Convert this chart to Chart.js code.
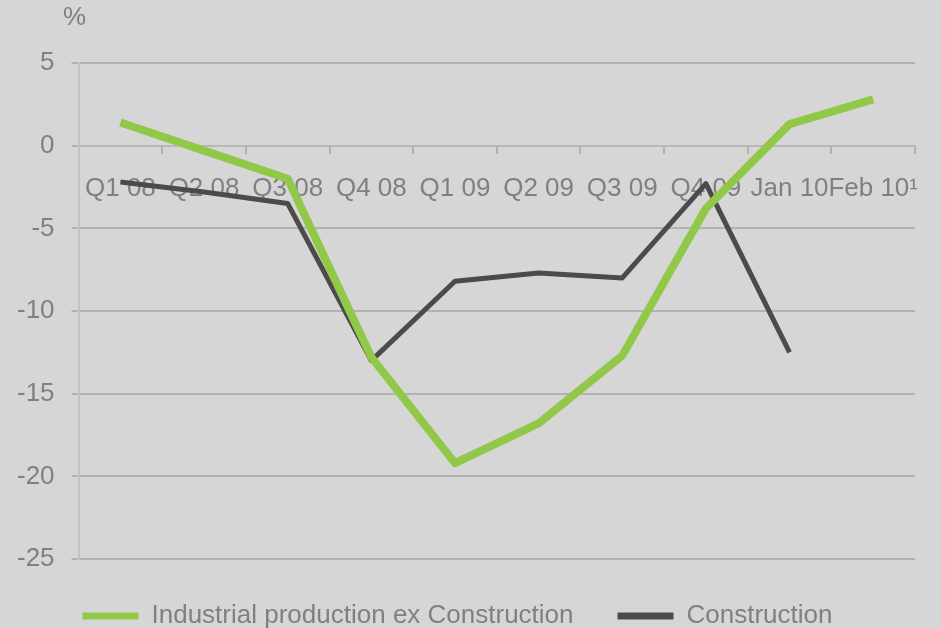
<!DOCTYPE html>
<html>
<head>
<meta charset="utf-8">
<script src="https://cdn.jsdelivr.net/npm/chart.js@4.4.1/dist/chart.umd.min.js"></script>
<style>
  html, body { margin: 0; padding: 0; background: #d6d6d6; }
  #wrap { width: 941px; height: 628px; position: relative; }
</style>
</head>
<body>
<div id="wrap"><canvas id="c"></canvas></div>
<script>
const categories = ['Q1 08', 'Q2 08', 'Q3 08', 'Q4 08', 'Q1 09', 'Q2 09', 'Q3 09', 'Q4 09', 'Jan 10', 'Feb 10\u00B9'];
const industrialExConstruction = [1.4, -0.3, -2.0, -12.8, -19.2, -16.8, -12.7, -3.8, 1.3, 2.8];
const construction = [-2.2, -2.8, -3.5, -13.0, -8.2, -7.7, -8.0, -2.3, -12.5, null];
const seriesNames = ['Industrial production ex Construction', 'Construction'];
const yTicks = { min: -25, max: 5, step: 5 };
const unitLabel = '%';

const FONT = "'Liberation Sans', Arial, sans-serif";
const TEXT = '#808080';
const GRID = '#b2b2b2';

const bgPlugin = {
  id: 'bg',
  beforeDraw(chart) {
    const ctx = chart.ctx;
    ctx.save();
    ctx.fillStyle = '#d6d6d6';
    ctx.fillRect(0, 0, chart.width, chart.height);
    ctx.restore();
  }
};
const unitPlugin = {
  id: 'unit',
  afterDraw(chart) {
    const ctx = chart.ctx, a = chart.chartArea;
    ctx.save();
    ctx.font = '26px ' + FONT;
    ctx.fillStyle = TEXT;
    ctx.textAlign = 'center';
    ctx.textBaseline = 'middle';
    ctx.fillText(unitLabel, a.left - 4, a.top - 45);
    ctx.restore();
  }
};

new Chart(document.getElementById('c'), {
  type: 'line',
  data: {
    labels: categories,
    datasets: [
      {
        label: seriesNames[0],
        data: industrialExConstruction,
        borderColor: '#92c84a',
        backgroundColor: '#92c84a',
        borderWidth: 8,
        pointRadius: 0,
        tension: 0,
        borderJoinStyle: 'round'
      },
      {
        label: seriesNames[1],
        data: construction,
        borderColor: '#4b4b4b',
        backgroundColor: '#4b4b4b',
        borderWidth: 5,
        pointRadius: 0,
        tension: 0,
        borderJoinStyle: 'round'
      }
    ]
  },
  options: {
    responsive: true,
    maintainAspectRatio: false,
    animation: false,
    devicePixelRatio: 1,
    layout: { padding: { top: 63, left: 0, right: 26, bottom: -11 } },
    plugins: {
      legend: {
        position: 'bottom',
        labels: {
          boxWidth: 56,
          boxHeight: 7,
          padding: 44,
          color: TEXT,
          font: { family: FONT, size: 26 },
          generateLabels(chart) {
            const items = Chart.defaults.plugins.legend.labels.generateLabels(chart);
            items.forEach(it => { it.lineWidth = 0; });
            return items;
          }
        }
      },
      tooltip: { enabled: false }
    },
    scales: {
      x: {
        type: 'category',
        position: { y: 0 },
        offset: true,
        grid: {
          offset: true,
          drawOnChartArea: false,
          drawTicks: true,
          tickLength: 7,
          color: GRID,
          lineWidth: 2
        },
        border: { display: true, color: '#b8b8b8', width: 2 },
        ticks: {
          color: TEXT,
          font: { family: FONT, size: 26 },
          padding: 21,
          autoSkip: false,
          maxRotation: 0,
          minRotation: 0
        }
      },
      y: {
        min: yTicks.min,
        max: yTicks.max,
        grid: {
          color: GRID,
          lineWidth: 2,
          tickLength: 7
        },
        border: { display: true, color: '#c2c2c2', width: 2 },
        ticks: {
          stepSize: yTicks.step,
          color: TEXT,
          font: { family: FONT, size: 26 },
          padding: 17
        }
      }
    }
  },
  plugins: [bgPlugin, unitPlugin]
});
</script>
</body>
</html>
